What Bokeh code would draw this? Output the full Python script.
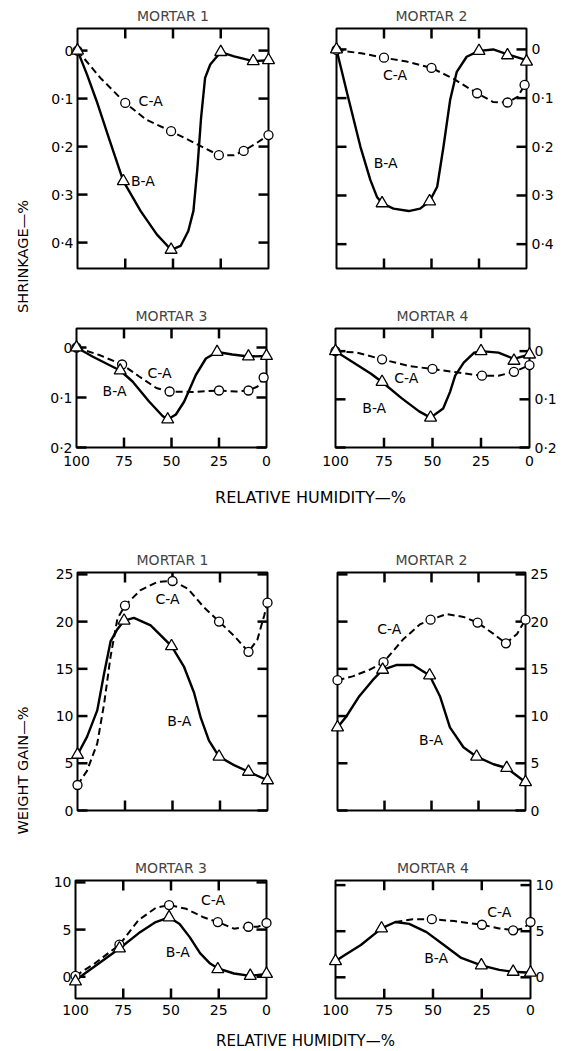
import math
from bokeh.plotting import figure
from bokeh.models import Range1d, LinearAxis, FixedTicker, Label, CustomJSTickFormatter
from bokeh.layouts import row, column
from bokeh.embed import file_html
from bokeh.resources import INLINE

FONT = "DejaVu Sans"

# ---------------- data ----------------
RH_TICKS = [100, 75, 50, 25, 0]
SHR_TICKS_BIG = [0, 0.1, 0.2, 0.3, 0.4]
SHR_TICKS_SMALL = [0, 0.1, 0.2]
WG_TICKS_BIG = [0, 5, 10, 15, 20, 25]
WG_TICKS_SMALL = [0, 5, 10]

# Shrinkage - Mortar 1
SHR1_BA_RH = [100, 76, 51, 25, 8, 0]
SHR1_BA = [0, 0.272, 0.415, 0.003, 0.022, 0.020]
SHR1_CA_RH = [100, 75, 51, 26, 13, 0]
SHR1_CA = [0, 0.109, 0.168, 0.218, 0.209, 0.176]
SHR1_BA_CURVE_RH = [100, 95, 90, 83, 76, 67, 58.5, 51, 46, 42, 39.3, 37.2, 35.3, 33.2, 30.5, 25, 18, 8, 0]
SHR1_BA_CURVE = [0, 0.05, 0.105, 0.189, 0.272, 0.334, 0.383, 0.415, 0.407, 0.376, 0.334, 0.244, 0.14, 0.057, 0.029, 0.003, 0.012, 0.022, 0.020]
SHR1_CA_CURVE_RH = [100, 88, 75, 64, 51, 39, 26, 18, 13, 6, 0]
SHR1_CA_CURVE = [0, 0.057, 0.109, 0.144, 0.168, 0.192, 0.218, 0.218, 0.209, 0.192, 0.176]

# Shrinkage - Mortar 2
SHR2_BA_RH = [100, 76, 51, 25, 10, 0]
SHR2_BA = [0, 0.316, 0.312, 0.003, 0.012, 0.025]
SHR2_CA_RH = [100, 75, 50, 26, 10, 1]
SHR2_CA = [0.001, 0.017, 0.038, 0.090, 0.109, 0.073]
SHR2_BA_CURVE_RH = [100, 94.4, 87.4, 82.2, 78.7, 76, 70, 62, 56, 51, 47, 43.7, 40.2, 36.7, 31.5, 25, 17.5, 10, 0]
SHR2_BA_CURVE = [0, 0.09, 0.2, 0.268, 0.303, 0.316, 0.327, 0.332, 0.327, 0.312, 0.282, 0.2, 0.104, 0.046, 0.015, 0.003, 0, 0.01, 0.022]
SHR2_CA_CURVE_RH = [100, 87, 75, 63, 50, 38.5, 31.5, 26, 17.5, 10, 4.5, 1]
SHR2_CA_CURVE = [0.001, 0.008, 0.017, 0.025, 0.038, 0.06, 0.077, 0.09, 0.108, 0.109, 0.097, 0.073]

# Shrinkage - Mortar 3
SHR3_BA_RH = [100, 77, 52, 26, 9.5, 0]
SHR3_BA = [0, 0.046, 0.144, 0.009, 0.018, 0.017]
SHR3_CA_RH = [100, 76, 51, 25, 9.5, 1.5]
SHR3_CA = [0, 0.034, 0.088, 0.086, 0.086, 0.06]
SHR3_BA_CURVE_RH = [100, 91.6, 82.8, 77, 70.5, 61.8, 54.7, 52, 47.7, 43.3, 37.2, 31.9, 26, 18, 9.5, 0]
SHR3_BA_CURVE = [0, 0.018, 0.035, 0.046, 0.068, 0.108, 0.137, 0.144, 0.134, 0.108, 0.055, 0.022, 0.009, 0.014, 0.018, 0.017]
SHR3_CA_CURVE_RH = [100, 88, 76, 67, 58, 51, 39, 25, 16, 9.5, 4.7, 1.5]
SHR3_CA_CURVE = [0, 0.015, 0.034, 0.058, 0.081, 0.088, 0.089, 0.086, 0.088, 0.086, 0.078, 0.06]

# Shrinkage - Mortar 4
SHR4_BA_RH = [100, 76, 51, 25, 8, 0]
SHR4_BA = [0, 0.064, 0.138, 0, 0.02, 0.007]
SHR4_CA_RH = [100, 76, 50, 24.5, 8, 0]
SHR4_CA = [0, 0.017, 0.037, 0.051, 0.043, 0.029]
SHR4_BA_CURVE_RH = [100, 90.6, 81.7, 76, 65.8, 56.9, 51, 44.5, 41, 38.3, 33.9, 28.5, 25, 16, 8, 0]
SHR4_BA_CURVE = [0, 0.024, 0.047, 0.064, 0.098, 0.125, 0.138, 0.119, 0.085, 0.051, 0.024, 0.003, 0, 0.003, 0.016, 0.007]
SHR4_CA_CURVE_RH = [100, 89, 76, 62, 50, 37.4, 24.5, 16, 8, 0]
SHR4_CA_CURVE = [0, 0.003, 0.017, 0.031, 0.037, 0.044, 0.051, 0.051, 0.043, 0.029]

# Weight gain - Mortar 1
WG1_BA_RH = [100, 75.5, 50.5, 25.5, 10, 0]
WG1_BA = [5.9, 20.1, 17.4, 5.7, 4.1, 3.2]
WG1_CA_RH = [100, 75, 50, 25.5, 10, 0]
WG1_CA = [2.7, 21.7, 24.3, 20.0, 16.8, 22.0]
WG1_BA_CURVE_RH = [100, 95, 89.6, 86, 82.6, 79, 75.5, 70.3, 61.5, 50.5, 43.9, 38.7, 35.1, 30.8, 25.5, 17.6, 10, 0]
WG1_BA_CURVE = [5.9, 7.8, 10.6, 14.5, 17.9, 19.2, 20.1, 20.4, 19.6, 17.4, 15.2, 12.5, 9.8, 7.4, 5.7, 4.8, 4.1, 3.2]
WG1_CA_CURVE_RH = [100, 95, 89.6, 86, 82.6, 79, 75, 67, 58, 50, 42, 33.4, 25.5, 17.6, 10, 5.3, 1.8, 0]
WG1_CA_CURVE = [2.7, 4.2, 7.1, 11.3, 16.3, 20.3, 21.7, 23.3, 24.2, 24.3, 23.5, 21.5, 20.0, 18.5, 16.8, 18.1, 20.6, 22.0]

# Weight gain - Mortar 2
WG2_BA_RH = [100, 76, 51, 26, 10, 0]
WG2_BA = [8.8, 14.9, 14.3, 5.7, 4.5, 3.0]
WG2_CA_RH = [100, 75.5, 50.5, 25.5, 10.4, 0]
WG2_CA = [13.8, 15.7, 20.2, 19.9, 17.7, 20.2]
WG2_BA_CURVE_RH = [100, 95.5, 88.4, 81.3, 76, 68.8, 59.8, 51, 45.5, 40.2, 33, 26, 17, 10, 0]
WG2_BA_CURVE = [8.8, 9.9, 12.1, 13.8, 14.9, 15.4, 15.4, 14.3, 12.1, 8.8, 6.7, 5.7, 4.9, 4.5, 3.0]
WG2_CA_CURVE_RH = [100, 92, 83, 75.5, 65.2, 56.2, 50.5, 42, 33, 25.5, 17, 10.4, 4.5, 0]
WG2_CA_CURVE = [13.8, 14.2, 14.9, 15.7, 18.1, 19.7, 20.2, 20.8, 20.5, 19.9, 18.7, 17.7, 18.7, 20.2]

# Weight gain - Mortar 3
WG3_BA_RH = [100, 77, 51, 25.5, 8.5, 0]
WG3_BA = [-0.5, 3.0, 6.3, 0.8, 0.1, 0.3]
WG3_CA_RH = [100, 77, 51, 25.5, 9.5, 0]
WG3_CA = [0.1, 3.4, 7.6, 5.8, 5.3, 5.7]
WG3_BA_CURVE_RH = [100, 95.5, 86.6, 77, 67, 58, 51, 45.5, 40.2, 34.8, 29.5, 25.5, 17, 8.5, 0]
WG3_BA_CURVE = [-0.4, 0.3, 1.6, 3.0, 4.6, 5.8, 6.3, 5.6, 4.2, 2.5, 1.4, 0.9, 0.35, 0.1, 0.3]
WG3_CA_CURVE_RH = [100, 90, 77, 67, 58, 51, 42, 33, 25.5, 17, 9.5, 4.5, 0]
WG3_CA_CURVE = [0.1, 1.4, 3.4, 6.0, 7.3, 7.6, 7.2, 6.3, 5.8, 5.1, 5.3, 5.3, 5.7]

# Weight gain - Mortar 4
WG4_BA_RH = [100, 76.4, 25.2, 8.9, 0]
WG4_BA = [1.75, 5.3, 1.3, 0.6, 0.5]
WG4_CA_RH = [50.6, 24.9, 8.9, 0]
WG4_CA = [6.3, 5.7, 5.1, 6.0]
WG4_BA_CURVE_RH = [100, 96, 87, 76.4, 69.3, 62.2, 53.3, 44.4, 35.5, 25.2, 16, 8.9, 0]
WG4_BA_CURVE = [1.75, 2.3, 3.5, 5.3, 6.0, 5.8, 4.9, 3.5, 2.1, 1.3, 0.8, 0.6, 0.5]
WG4_CA_CURVE_RH = [69.3, 60.4, 50.6, 39.1, 24.9, 16, 8.9, 3.6, 0]
WG4_CA_CURVE = [6.0, 6.3, 6.3, 6.1, 5.7, 5.3, 5.1, 5.3, 6.0]

# ---------------- drawing ----------------
SHR_FMT = "return tick === 0 ? '0' : tick.toFixed(1).replace('.', '\u00b7');"
TICK_LEN = 10  # px, ticks point into the frame


def label_axis(ticks, standoff, fmt=None):
    """Axis carrying the tick labels; the inward tick marks are drawn separately."""
    ax = LinearAxis(ticker=FixedTicker(ticks=ticks))
    ax.major_tick_in = 0
    ax.major_tick_out = 0
    ax.minor_tick_in = 0
    ax.minor_tick_out = 0
    ax.axis_line_color = None
    ax.major_label_text_font = FONT
    ax.major_label_text_font_size = "14px"
    ax.major_label_text_color = "black"
    ax.major_label_standoff = standoff
    if fmt is not None:
        ax.formatter = CustomJSTickFormatter(code=fmt)
    return ax


def inner_ticks(p, xticks, yticks, xr, yr, fw, fh):
    """Inward tick marks on all four frame edges, TICK_LEN pixels long."""
    style = dict(line_color="black", line_width=2.5, level="overlay")
    lx = (xr.end - xr.start) / fw * TICK_LEN
    ly = (yr.end - yr.start) / fh * TICK_LEN
    inner_x = [t for t in xticks if t not in (xr.start, xr.end)]
    n = len(inner_x)
    for yedge, sgn in ((yr.start, 1), (yr.end, -1)):
        p.segment(x0=inner_x, y0=[yedge] * n, x1=inner_x, y1=[yedge + sgn * ly] * n, **style)
    m = len(yticks)
    for xedge, sgn in ((xr.start, 1), (xr.end, -1)):
        p.segment(x0=[xedge] * m, y0=yticks, x1=[xedge + sgn * lx] * m, y1=yticks, **style)


def panel(title, w, h, bl, br, bt, bb, yrange, yticks, yside, xlabels, fmt,
          ba_curve, ca_curve, ba_pts, ca_pts, lab_ca, lab_ba, xstand=7):
    xr = Range1d(100, 0)
    yr = Range1d(*yrange)
    p = figure(width=w, height=h, x_range=xr, y_range=yr,
               x_axis_type=None, y_axis_type=None, output_backend="svg",
               toolbar_location=None, min_border_left=bl, min_border_right=br,
               min_border_top=bt, min_border_bottom=bb)
    p.title.text = title
    p.title.align = "center"
    p.title.text_font = FONT
    p.title.text_font_size = "14px"
    p.title.text_font_style = "normal"
    p.title.standoff = 10
    p.outline_line_color = "black"
    p.outline_line_width = 2
    p.outline_line_alpha = 1
    p.background_fill_color = "white"
    p.border_fill_color = "white"

    if xlabels:
        p.add_layout(label_axis(RH_TICKS, xstand), "below")
    p.add_layout(label_axis(yticks, 5 if yside == "right" else 4, fmt), yside)

    inner_ticks(p, RH_TICKS, yticks, xr, yr, w - bl - br, h - bt - bb)

    p.line(ca_curve[0], ca_curve[1], line_color="black", line_width=2, line_dash="7 4")
    p.line(ba_curve[0], ba_curve[1], line_color="black", line_width=2.4, line_join="round")
    p.scatter(ca_pts[0], ca_pts[1], marker="circle", size=9, fill_color="white",
              line_color="black", line_width=1.3, level="overlay")
    p.scatter(ba_pts[0], ba_pts[1], marker="triangle", size=12, fill_color="white",
              line_color="black", line_width=1.3, level="overlay")
    for (x, y), txt in ((lab_ca, "C-A"), (lab_ba, "B-A")):
        p.add_layout(Label(x=x, y=y, text=txt, text_font=FONT, text_font_size="14px",
                           text_align="left", text_baseline="middle", text_color="black"))
    return p


def text_fig(w, h, txt, x, y, angle, size):
    f = figure(width=w, height=h, x_range=Range1d(0, 1), y_range=Range1d(0, 1),
               x_axis_type=None, y_axis_type=None, output_backend="svg",
               toolbar_location=None, min_border=0)
    f.outline_line_color = None
    f.border_fill_color = "white"
    f.add_layout(Label(x=x, y=y, text=txt, angle=angle, text_font=FONT,
                       text_font_size=size, text_align="center", text_baseline="middle",
                       text_color="black"))
    return f


p1 = panel("MORTAR 1", 262, 300, 39, 32, 27, 32, (0.454, -0.046), SHR_TICKS_BIG, "left", False, SHR_FMT,
           (SHR1_BA_CURVE_RH, SHR1_BA_CURVE), (SHR1_CA_CURVE_RH, SHR1_CA_CURVE),
           (SHR1_BA_RH, SHR1_BA), (SHR1_CA_RH, SHR1_CA), (68, 0.105), (72, 0.272))
p2 = panel("MORTAR 2", 269, 300, 36, 43, 28, 32, (0.45, -0.043), SHR_TICKS_BIG, "right", False, SHR_FMT,
           (SHR2_BA_CURVE_RH, SHR2_BA_CURVE), (SHR2_CA_CURVE_RH, SHR2_CA_CURVE),
           (SHR2_BA_RH, SHR2_BA), (SHR2_CA_RH, SHR2_CA), (75.5, 0.053), (80.4, 0.234))
p3 = panel("MORTAR 3", 262, 175, 38, 34, 27, 28, (0.2, -0.038), SHR_TICKS_SMALL, "left", True, SHR_FMT,
           (SHR3_BA_CURVE_RH, SHR3_BA_CURVE), (SHR3_CA_CURVE_RH, SHR3_CA_CURVE),
           (SHR3_BA_RH, SHR3_BA), (SHR3_CA_RH, SHR3_CA), (62.6, 0.051), (86.3, 0.086), xstand=8)
p4 = panel("MORTAR 4", 269, 175, 35, 40, 25, 28, (0.2, -0.047), SHR_TICKS_SMALL, "right", True, SHR_FMT,
           (SHR4_BA_CURVE_RH, SHR4_BA_CURVE), (SHR4_CA_CURVE_RH, SHR4_CA_CURVE),
           (SHR4_BA_RH, SHR4_BA), (SHR4_CA_RH, SHR4_CA), (69.7, 0.056), (86.2, 0.117), xstand=8)
p5 = panel("MORTAR 1", 262, 310, 39, 33, 52, 20, (0, 25.2), WG_TICKS_BIG, "left", False, None,
           (WG1_BA_CURVE_RH, WG1_BA_CURVE), (WG1_CA_CURVE_RH, WG1_CA_CURVE),
           (WG1_BA_RH, WG1_BA), (WG1_CA_RH, WG1_CA), (58.9, 22.4), (52.7, 9.5))
p6 = panel("MORTAR 2", 269, 310, 37, 44, 52, 18, (0, 25.2), WG_TICKS_BIG, "right", False, None,
           (WG2_BA_CURVE_RH, WG2_BA_CURVE), (WG2_CA_CURVE_RH, WG2_CA_CURVE),
           (WG2_BA_RH, WG2_BA), (WG2_CA_RH, WG2_CA), (78.9, 19.2), (56.6, 7.5))
p7 = panel("MORTAR 3", 262, 195, 37, 34, 50, 27, (-2.3, 10.2), WG_TICKS_SMALL, "left", True, None,
           (WG3_BA_CURVE_RH, WG3_BA_CURVE), (WG3_CA_CURVE_RH, WG3_CA_CURVE),
           (WG3_BA_RH, WG3_BA), (WG3_CA_RH, WG3_CA), (34.3, 8.1), (52.7, 2.6), xstand=6)
p8 = panel("MORTAR 4", 269, 195, 35, 39, 47, 27, (-2.3, 10.5), WG_TICKS_SMALL, "right", True, None,
           (WG4_BA_CURVE_RH, WG4_BA_CURVE), (WG4_CA_CURVE_RH, WG4_CA_CURVE),
           (WG4_BA_RH, WG4_BA), (WG4_CA_RH, WG4_CA), (22.2, 7.1), (54.5, 2.1), xstand=6)

ylab_top = text_fig(38, 475, "SHRINKAGE\u2014%", 0.58, 1 - 256 / 475, math.pi / 2, "14.5px")
ylab_bot = text_fig(38, 505, "WEIGHT GAIN\u2014%", 0.58, 1 - 250 / 505, math.pi / 2, "14.5px")
xlab_top = text_fig(569, 45, "RELATIVE HUMIDITY\u2014%", 310 / 569, 1 - 22 / 45, 0, "16px")
xlab_bot = text_fig(569, 26, "RELATIVE HUMIDITY\u2014%", 305 / 569, 1 - 15 / 26, 0, "15px")

top = row(ylab_top, column(row(p1, p2, spacing=0), row(p3, p4, spacing=0), spacing=0), spacing=0)
bot = row(ylab_bot, column(row(p5, p6, spacing=0), row(p7, p8, spacing=0), spacing=0), spacing=0)
layout = column(top, xlab_top, bot, xlab_bot, spacing=0)

open("out.html", "w").write(file_html(layout, INLINE))
